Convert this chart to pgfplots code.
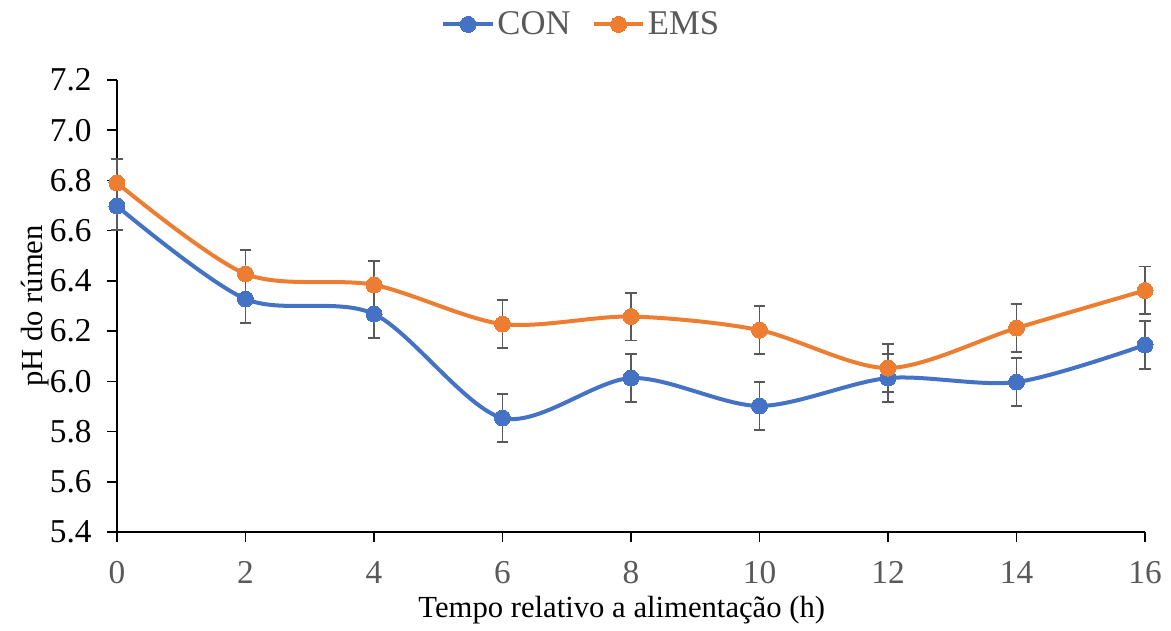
\documentclass[border=0pt]{standalone}
\usepackage{pgfplots}
\pgfplotsset{compat=1.18}
\usepackage{fontspec}
\setmainfont{Liberation Serif}
\definecolor{conblue}{HTML}{4472C4}
\definecolor{emsorange}{HTML}{ED7D31}
\definecolor{txtgray}{HTML}{595959}
\begin{document}
\begin{tikzpicture}
\path[use as bounding box] (-87.75pt,-74.25pt) rectangle (790.5pt,399pt);
\begin{axis}[
  scale only axis,
  width=771pt, height=339pt,
  xmin=0, xmax=16, ymin=5.4, ymax=7.2,
  xtick={0,2,...,16},
  ytick={5.4,5.6,...,7.21},
  axis x line*=bottom, axis y line*=left,
  axis line style={black, line width=1.1pt},
  tick style={black, line width=1.1pt},
  major tick length=7.5pt,
  tick align=outside,
  clip=false,
  font=\fontsize{23}{27}\selectfont,
  yticklabel={\pgfmathprintnumber[fixed,precision=1,fixed zerofill,assume math mode=true]{\tick}},
  xticklabel={\pgfmathprintnumber[assume math mode=true]{\tick}},
  yticklabel style={black, font=\fontsize{25}{29}\selectfont, xshift=-8pt},
  xticklabel style={txtgray, font=\fontsize{25}{29}\selectfont, yshift=-11pt},
  xlabel={Tempo relativo a alimentação (h)},
  ylabel={pH do rúmen},
  every axis x label/.style={at={(axis description cs:0.491,-0.1726)}, anchor=center},
  every axis y label/.style={at={(axis description cs:-0.0798,0.5)}, anchor=center, rotate=90},
  legend style={at={(axis description cs:0.452,1.123)}, anchor=center, draw=none, fill=none,
    legend columns=2, text=txtgray, font=\fontsize{26}{30}\selectfont,
    /tikz/every even column/.append style={column sep=14pt}},
  legend image code/.code={
    \draw[#1, mark=none] (0cm,0cm) -- (1.3cm,0cm);
    \draw[#1, only marks] plot coordinates {(0.65cm,0cm)};
  },
  error bars/error bar style={txtgray, line width=1.3pt, solid},
  error bars/error mark options={rotate=90, mark size=4.2pt, txtgray, line width=1.3pt},
]
\addplot+[conblue, line width=3pt, smooth, tension=0.5, mark=*, mark size=6pt,
  mark options={fill=conblue, draw=conblue, line width=0pt},
  error bars/.cd, y dir=both, y explicit]
  coordinates {
  (0,6.698) +- (0,0.095)
  (2,6.328) +- (0,0.095)
  (4,6.268) +- (0,0.095)
  (6,5.854) +- (0,0.095)
  (8,6.013) +- (0,0.095)
  (10,5.902) +- (0,0.095)
  (12,6.013) +- (0,0.095)
  (14,5.997) +- (0,0.095)
  (16,6.145) +- (0,0.095)
  };
\addlegendentry{CON}
\addplot+[emsorange, line width=3pt, smooth, tension=0.5, mark=*, mark size=6pt,
  mark options={fill=emsorange, draw=emsorange, line width=0pt},
  error bars/.cd, y dir=both, y explicit]
  coordinates {
  (0,6.790) +- (0,0.095)
  (2,6.428) +- (0,0.095)
  (4,6.384) +- (0,0.095)
  (6,6.228) +- (0,0.095)
  (8,6.258) +- (0,0.095)
  (10,6.204) +- (0,0.095)
  (12,6.053) +- (0,0.095)
  (14,6.212) +- (0,0.095)
  (16,6.362) +- (0,0.095)
  };
\addlegendentry{EMS}
\end{axis}
\end{tikzpicture}
\end{document}
